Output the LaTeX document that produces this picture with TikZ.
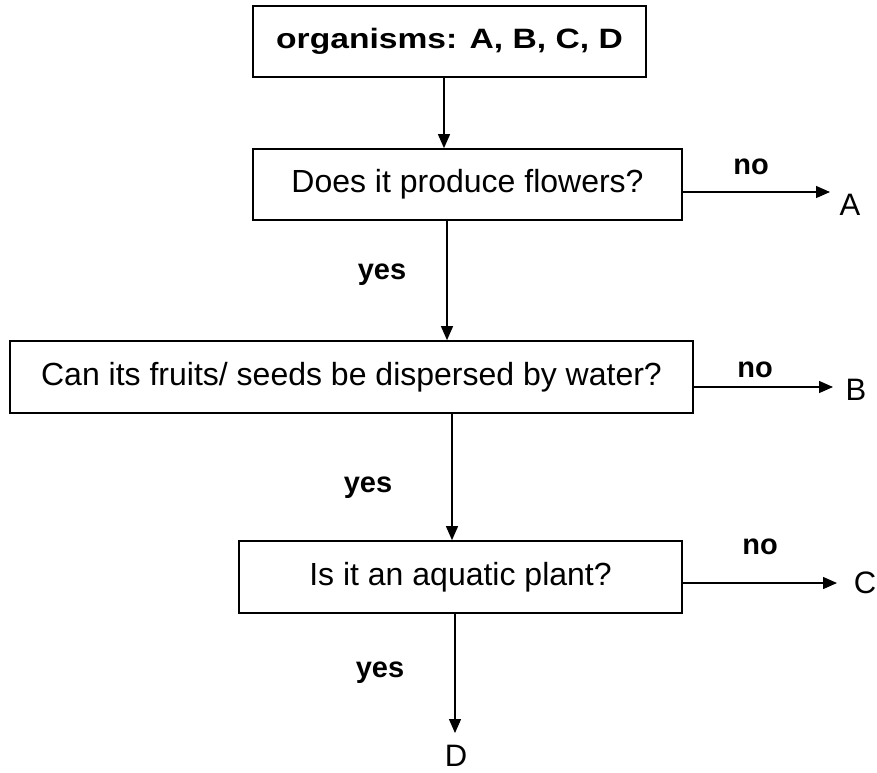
\documentclass[tikz,border=0pt]{standalone}
\usepackage{fontspec}
\setmainfont{Liberation Sans}
\usetikzlibrary{arrows.meta}
\begin{document}
\begin{tikzpicture}[x=1pt,y=-1pt,
  qbox/.style={draw, line width=1.7pt, inner sep=0pt, font=\fontsize{32}{38}\selectfont},
  arr/.style={line width=1.3pt, -{Triangle[length=14pt,width=12pt]}},
  lab/.style={font=\fontsize{29}{34}\selectfont\bfseries, inner sep=0pt},
  res/.style={font=\fontsize{31}{36}\selectfont, inner sep=0pt}]
\useasboundingbox (0,0) rectangle (877,772);

% boxes
\node[qbox, minimum width=393pt, minimum height=71pt] (q0) at (449.5,41.5)
  {\scalebox{1.2}[1]{\fontsize{28}{33}\selectfont\bfseries organisms: A, B, C, D}};
\node[qbox, minimum width=429pt, minimum height=71pt] (q1) at (467.5,184.5)
  {Does it produce flowers?};
\node[qbox, minimum width=683pt, minimum height=72pt] (q2) at (351.5,377)
  {Can its fruits/ seeds be dispersed by water?};
\node[qbox, minimum width=443pt, minimum height=72pt] (q3) at (460.5,577)
  {Is it an aquatic plant?};

% outcome letters
\node[res] (rA) at (850,205) {A};
\node[res] (rB) at (856,390) {B};
\node[res] (rC) at (865,583) {C};
\node[res] (rD) at (456,756) {D};

% labels
\node[lab] (n1) at (751,167) {no};
\node[lab] (n2) at (755,370) {no};
\node[lab] (n3) at (760,547) {no};
\node[lab] (y1) at (382,275) {yes};
\node[lab] (y2) at (368,488) {yes};
\node[lab] (y3) at (380,673) {yes};

% vertical connectors
\coordinate (x1) at (444,0);
\coordinate (x2) at (447,0);
\coordinate (x3) at (452,0);
\coordinate (eD) at (455,733);
\draw[arr] (q0.south -| x1) -- (q1.north -| x1);
\draw[arr] (q1.south -| x2) -- (q2.north -| x2);
\draw[arr] (q2.south -| x3) -- (q3.north -| x3);
\draw[arr] (q3.south -| eD) -- (eD);

% horizontal "no" connectors
\coordinate (eA) at (830,192);
\coordinate (eB) at (833,387);
\coordinate (eC) at (837,583);
\draw[arr] (q1.east |- eA) -- (eA);
\draw[arr] (q2.east |- eB) -- (eB);
\draw[arr] (q3.east |- eC) -- (eC);
\end{tikzpicture}
\end{document}
